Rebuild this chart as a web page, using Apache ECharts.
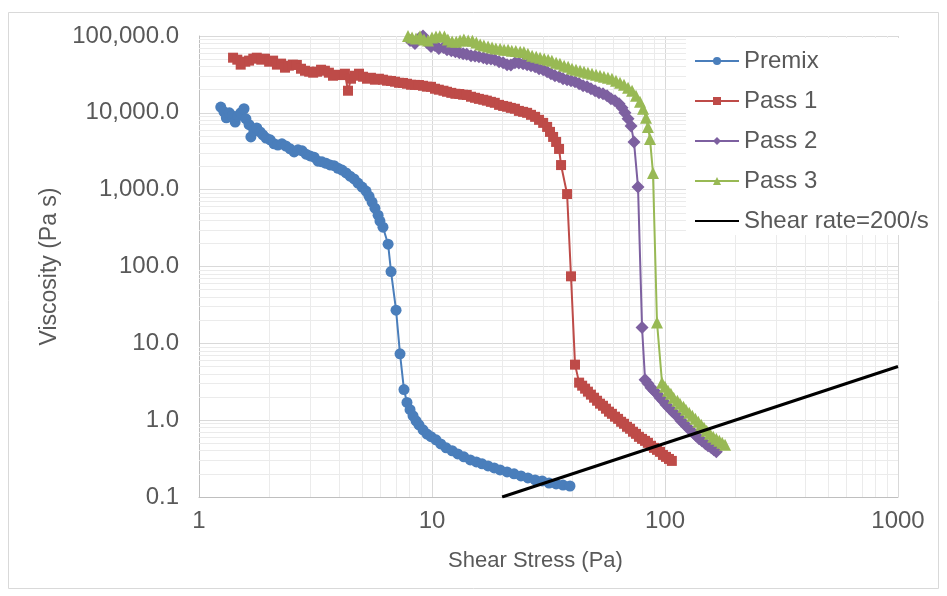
<!DOCTYPE html>
<html>
<head>
<meta charset="utf-8">
<title>Viscosity vs Shear Stress</title>
<script src="https://cdn.jsdelivr.net/npm/echarts@6/dist/echarts.min.js"></script>
<style>
  html, body { margin: 0; padding: 0; background: #ffffff; }
  #chart { width: 947px; height: 596px; }
</style>
</head>
<body>
<div id="chart"></div>
<script>
// ---- Series data: shear stress (Pa) and viscosity (Pa s) ----
const premixStress = [1.24,1.28,1.31,1.35,1.39,1.43,1.47,1.51,1.56,1.59,1.64,1.67,1.72,1.77,1.83,1.88,1.94,2.02,2.10,2.18,2.27,2.36,2.46,2.56,2.66,2.77,2.88,3.00,3.12,3.24,3.37,3.51,3.65,3.80,3.95,4.11,4.28,4.45,4.63,4.81,5.01,5.21,5.37,5.53,5.69,5.87,5.98,6.16,6.48,6.67,7.01,7.29,7.58,7.81,8.05,8.29,8.54,8.79,9.15,9.52,9.90,10.4,10.9,11.5,12.2,12.9,13.7,14.6,15.5,16.4,17.4,18.5,19.6,21.0,22.5,24.1,25.8,27.7,29.7,31.8,34.1,36.5,39.1];
const premixViscosity = [11900,10300,8600,10000,9100,7600,9100,10000,11300,8350,7000,4850,5800,6350,5650,5150,4700,4450,3950,3800,3950,3700,3400,3100,3300,3200,2900,2750,2650,2350,2300,2200,2100,2050,1900,1800,1650,1500,1380,1220,1080,960,820,690,575,465,390,325,195,86,27,7.3,2.5,1.7,1.37,1.14,0.98,0.87,0.75,0.66,0.61,0.555,0.49,0.436,0.40,0.364,0.333,0.304,0.286,0.27,0.254,0.239,0.225,0.212,0.200,0.188,0.177,0.167,0.162,0.152,0.148,0.143,0.139];

const pass1Stress = [1.40,1.46,1.51,1.58,1.64,1.71,1.77,1.85,1.92,2.00,2.08,2.16,2.25,2.34,2.43,2.53,2.63,2.74,2.85,2.97,3.09,3.21,3.34,3.47,3.61,3.76,3.91,4.07,4.23,4.36,4.49,4.67,4.86,5.06,5.26,5.47,5.69,5.92,6.16,6.41,6.67,6.94,7.22,7.51,7.81,8.13,8.45,8.79,9.15,9.52,9.90,10.3,10.7,11.2,11.6,12.1,12.6,13.1,13.6,14.1,14.7,15.3,15.9,16.6,17.2,17.9,18.6,19.4,20.2,21.0,21.8,22.7,23.6,24.6,25.6,26.6,27.7,28.8,30.0,31.2,32.1,33.1,34.1,35.1,35.8,38.0,39.5,41.1,42.8,44.1,45.4,46.7,48.1,49.6,51.1,52.6,54.2,55.8,57.5,59.2,61.0,62.9,64.8,66.7,68.7,70.8,72.9,75.1,77.3,79.7,82.1,84.5,87.1,89.7,92.4,95.2,98.0,101,104,107];
const pass1Viscosity = [52200,49200,42400,46300,47800,50700,52200,49200,50700,46300,47800,42400,43700,38700,41100,42400,42000,37500,35300,34300,33300,34300,36400,35300,33300,30400,31300,31000,32300,19400,27800,30400,32300,29500,27800,28600,27000,27800,27000,26200,26000,25400,24600,24500,23900,23200,23100,23000,22500,21900,21800,20600,20000,19400,18800,18200,17700,17600,17200,17100,16200,15700,15200,14800,14400,13900,13500,12700,12300,12000,11600,11300,10600,10300,10000,9420,8870,8110,7400,6560,5650,4860,4180,3390,2090,877,74.5,5.28,3.08,2.81,2.57,2.35,2.15,1.96,1.79,1.64,1.54,1.41,1.29,1.21,1.11,1.04,0.953,0.897,0.820,0.773,0.707,0.664,0.607,0.571,0.538,0.507,0.464,0.436,0.411,0.387,0.353,0.333,0.313,0.295];

const pass2Stress = [8.05,8.45,8.79,9.15,9.52,9.90,10.3,10.7,11.2,11.6,12.1,12.6,13.1,13.6,14.1,14.7,15.3,15.9,16.6,17.2,17.9,18.6,19.4,20.2,21.0,21.8,22.7,23.6,24.6,25.6,26.6,27.7,28.8,30.0,31.2,32.4,33.7,35.1,36.5,38.0,39.5,41.1,42.8,44.5,46.3,48.1,50.1,52.1,54.2,56.4,58.6,61.0,63.5,65.4,67.3,69.4,71.5,73.6,76.6,79.7,82.1,84.5,87.1,89.7,92.4,95.2,98.0,101,104,107,110,114,117,121,124,128,132,136,140,144,149,153,158,162,166];
const pass2Viscosity = [87100,79600,92500,100000,82000,72750,75000,68500,70600,66450,64450,62550,60700,58900,58000,55450,55000,53800,52240,50700,50200,49200,46340,44970,42360,42000,44970,44500,43650,42360,41100,39890,37500,36400,34280,32280,30400,29500,27780,26960,26160,25390,23910,22510,21850,20570,19370,18240,17700,16670,15230,14350,13100,11620,10000,8350,6760,4180,1080,16.1,3.37,2.99,2.65,2.42,2.21,1.96,1.79,1.59,1.45,1.33,1.21,1.11,0.982,0.897,0.820,0.750,0.686,0.625,0.571,0.538,0.492,0.464,0.436,0.411,0.387];

const pass3Stress = [7.89,8.21,8.54,8.88,9.24,9.61,10.0,10.4,10.8,11.3,11.7,12.2,12.7,13.2,13.7,14.3,14.9,15.5,16.1,16.7,17.4,18.1,18.8,19.6,20.4,21.2,22.0,22.9,23.9,24.8,25.8,26.9,28.0,29.1,30.3,31.5,32.7,34.1,35.4,36.9,38.4,39.9,41.5,43.2,44.9,46.7,48.6,50.6,52.6,54.7,56.9,59.2,61.6,64.1,66.7,69.4,72.2,75.1,78.1,80.5,82.9,84.5,86.2,88.8,92.4,97.1,100,103,106,109,113,116,120,123,127,131,135,139,143,147,151,156,161,166,171,176,181];
const pass3Viscosity = [100000,95300,92500,99000,89750,87100,95300,98200,99000,98200,89750,84500,84000,87100,89750,87100,86500,82000,77250,75000,72750,70600,68500,68000,66450,66000,64450,64000,62550,62000,58900,55450,53800,52240,50700,49200,47750,44970,43650,41100,39890,37500,36400,35320,34280,33270,32280,31330,30400,29500,28630,27780,26160,24640,23200,21190,19370,16670,13920,11270,8610,6560,4580,1650,18.7,3.08,2.73,2.42,2.21,1.96,1.79,1.64,1.50,1.37,1.25,1.14,1.04,0.953,0.871,0.796,0.728,0.664,0.607,0.571,0.538,0.507,0.478];

// Reference line for a constant shear rate of 200 1/s (viscosity = stress / 200)
const shearLineStress = [20, 1000];
const shearLineViscosity = [0.1, 5];

// ---- Axis ticks and labels ----
const xTickValues = [1, 10, 100, 1000];
const xTickLabels = ['1', '10', '100', '1000'];
const yTickValues = [0.1, 1, 10, 100, 1000, 10000, 100000];
const yTickLabels = ['0.1', '1.0', '10.0', '100.0', '1,000.0', '10,000.0', '100,000.0'];
const minorSteps = [2, 3, 4, 5, 6, 7, 8, 9];

const seriesNames = ['Premix', 'Pass 1', 'Pass 2', 'Pass 3', 'Shear rate=200/s'];
const seriesColors = ['#4a7ebb', '#be4b48', '#7d60a0', '#98b954', '#000000'];

const FONT = '"Liberation Sans", Arial, Helvetica, sans-serif';
const TEXT = '#595959';

function pairs(xs, ys) { return xs.map((x, i) => [x, ys[i]]); }
function tickLabel(values, labels, v) {
  const i = values.findIndex(t => Math.abs(Math.log10(t) - Math.log10(v)) < 1e-6);
  return i < 0 ? '' : labels[i];
}

// Minor log grid lines at 2..9 of every decade
const minorLines = [];
xTickValues.slice(0, -1).forEach(d => minorSteps.forEach(s => minorLines.push({ xAxis: d * s })));
yTickValues.slice(0, -1).forEach(d => minorSteps.forEach(s => minorLines.push({ yAxis: d * s })));

function dataSeries(idx, xs, ys, symbol, size) {
  return {
    name: seriesNames[idx],
    type: 'line',
    data: pairs(xs, ys),
    symbol: symbol,
    symbolSize: size,
    showSymbol: true,
    showAllSymbol: true,
    clip: true,
    z: 3 + idx,
    lineStyle: { color: seriesColors[idx], width: 2 },
    itemStyle: { color: seriesColors[idx], borderWidth: 0 },
    emphasis: { disabled: true }
  };
}

// Legend entries; the shear-rate entry is a plain line without a marker
const legendEntries = seriesNames.map((name, i) =>
  i === 4 ? { name: name, itemStyle: { opacity: 0 } } : { name: name });

const chart = echarts.init(document.getElementById('chart'), null, { renderer: 'canvas' });
chart.setOption({
  animation: false,
  backgroundColor: '#ffffff',
  textStyle: { fontFamily: FONT },
  graphic: [{
    type: 'rect',
    silent: true,
    z: -10,
    shape: { x: 8.5, y: 12.5, width: 930, height: 576 },
    style: { fill: 'none', stroke: '#d9d9d9', lineWidth: 1 }
  }],
  grid: { left: 199, right: 49, top: 36, bottom: 99 },
  xAxis: {
    type: 'log',
    logBase: 10,
    min: 1,
    max: 1000,
    name: 'Shear Stress (Pa)',
    nameLocation: 'middle',
    nameGap: 53,
    nameTextStyle: { fontSize: 22, color: TEXT, fontFamily: FONT, padding: [0, 26, 0, 0] },
    axisLine: { show: true, onZero: false, lineStyle: { color: '#bfbfbf', width: 1 } },
    axisTick: { show: false },
    axisLabel: {
      fontSize: 24, color: TEXT, margin: 12, fontFamily: FONT,
      formatter: v => tickLabel(xTickValues, xTickLabels, v)
    },
    splitLine: { show: true, lineStyle: { color: '#d9d9d9', width: 1 } }
  },
  yAxis: {
    type: 'log',
    logBase: 10,
    min: 0.1,
    max: 100000,
    name: 'Viscosity (Pa s)',
    nameLocation: 'middle',
    nameGap: 136,
    nameTextStyle: { fontSize: 23, color: TEXT, fontFamily: FONT },
    axisLine: { show: true, onZero: false, lineStyle: { color: '#bfbfbf', width: 1 } },
    axisTick: { show: false },
    axisLabel: {
      fontSize: 24, color: TEXT, margin: 20, fontFamily: FONT,
      formatter: v => tickLabel(yTickValues, yTickLabels, v)
    },
    splitLine: { show: true, lineStyle: { color: '#d9d9d9', width: 1 } }
  },
  legend: {
    data: legendEntries,
    orient: 'vertical',
    left: 686,
    top: 38,
    padding: [11, 8, 2, 8],
    itemGap: 16,
    itemWidth: 44,
    itemHeight: 10,
    backgroundColor: '#ffffff',
    selectedMode: false,
    z: 20,
    textStyle: { fontSize: 24, color: TEXT, fontFamily: FONT, lineHeight: 24 }
  },
  series: [
    {
      type: 'line',
      data: [],
      silent: true,
      z: 1,
      markLine: {
        silent: true,
        z: 1,
        symbol: 'none',
        label: { show: false },
        animation: false,
        lineStyle: { color: '#ebebeb', width: 1, type: 'solid' },
        emphasis: { disabled: true },
        data: minorLines
      }
    },
    dataSeries(0, premixStress, premixViscosity, 'circle', 11),
    dataSeries(1, pass1Stress, pass1Viscosity, 'rect', 10),
    dataSeries(2, pass2Stress, pass2Viscosity, 'diamond', 13),
    dataSeries(3, pass3Stress, pass3Viscosity, 'triangle', 12),
    {
      name: seriesNames[4],
      type: 'line',
      data: pairs(shearLineStress, shearLineViscosity),
      symbol: 'none',
      showSymbol: false,
      clip: true,
      z: 8,
      lineStyle: { color: seriesColors[4], width: 3 },
      itemStyle: { color: seriesColors[4] },
      emphasis: { disabled: true }
    }
  ]
});
</script>
</body>
</html>
